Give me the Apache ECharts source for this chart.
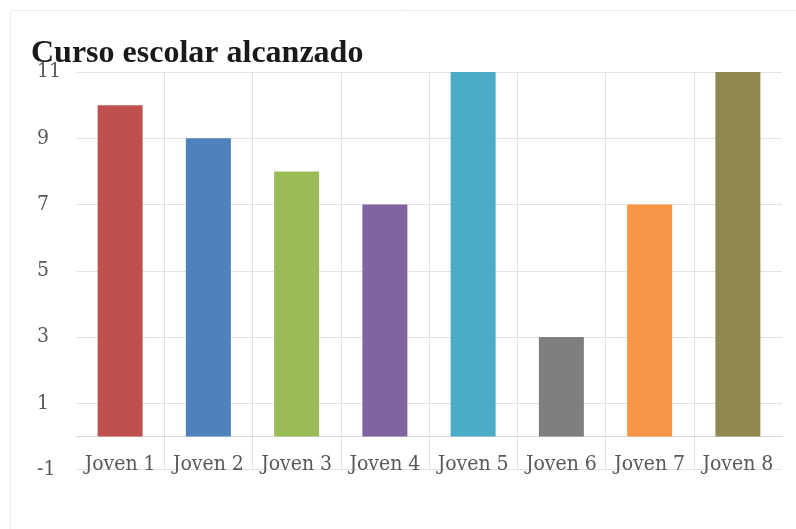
<!DOCTYPE html>
<html>
<head>
<meta charset="utf-8">
<script src="https://cdn.jsdelivr.net/npm/echarts@6/dist/echarts.min.js"></script>
<style>
  html, body { margin: 0; padding: 0; background: #fff; }
  #main-chart { width: 796px; height: 529px; }
</style>
</head>
<body>
<div id="main-chart"></div>
<script>
const categories = ['Joven 1', 'Joven 2', 'Joven 3', 'Joven 4', 'Joven 5', 'Joven 6', 'Joven 7', 'Joven 8']
const values = [10, 9, 8, 7, 11, 3, 7, 11]
const barColors = ['#c0504d', '#4f81bd', '#9bbb59', '#8064a2', '#4bacc6', '#7f7f7f', '#f79646', '#918750']

const labelFont = "'DejaVu Serif Condensed', 'DejaVu Serif', serif"
const chart = echarts.init(document.querySelector('#main-chart'))

chart.setOption({
  animation: false,
  title: {
    text: 'Curso escolar alcanzado',
    left: 26,
    top: 33,
    textStyle: {
      fontFamily: "'Liberation Serif', serif",
      fontWeight: 'bold',
      fontSize: 32,
      color: '#1a1a1a'
    }
  },
  graphic: [{
    type: 'rect',
    shape: { x: 10.5, y: 10.5, width: 800, height: 540 },
    style: { fill: 'none', stroke: '#ececec', lineWidth: 1 },
    silent: true
  }],
  grid: { left: 76, right: 14, top: 72, bottom: 59.5 },
  xAxis: {
    type: 'category',
    data: categories,
    axisLine: { onZero: true, lineStyle: { color: '#d9d9d9', width: 1 } },
    axisTick: { show: false },
    axisLabel: {
      interval: 0,
      margin: -15,
      fontFamily: labelFont,
      fontSize: 21,
      color: '#595959'
    },
    splitLine: {
      show: true,
      interval: 0,
      showMinLine: false,
      showMaxLine: false,
      lineStyle: { color: '#e3e3e3', width: 1 }
    }
  },
  yAxis: {
    type: 'value',
    min: -1,
    max: 11,
    interval: 2,
    axisLine: { show: false },
    axisTick: { show: false },
    axisLabel: {
      align: 'left',
      margin: 39,
      fontFamily: labelFont,
      fontSize: 21,
      color: '#595959'
    },
    splitLine: { lineStyle: { color: '#e3e3e3', width: 1 } }
  },
  series: [{
    type: 'bar',
    barWidth: 45,
    data: values.map((v, i) => ({ value: v, itemStyle: { color: barColors[i] } }))
  }]
})
</script>
</body>
</html>
